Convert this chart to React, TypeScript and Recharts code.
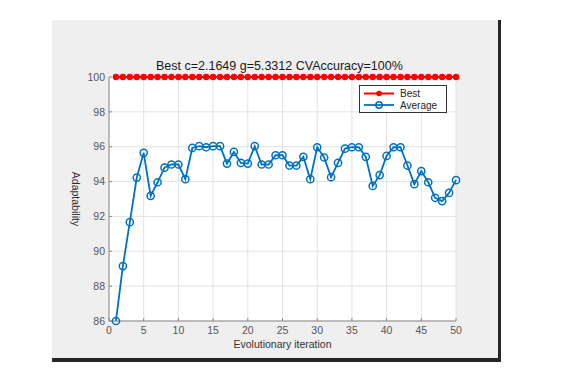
import React from "react";
import {
  LineChart,
  Line,
  XAxis,
  YAxis,
  CartesianGrid,
} from "recharts";

const iterations = Array.from({ length: 50 }, (_, i) => i + 1);
const bestValues = [
  100, 100, 100, 100, 100, 100, 100, 100, 100, 100,
  100, 100, 100, 100, 100, 100, 100, 100, 100, 100,
  100, 100, 100, 100, 100, 100, 100, 100, 100, 100,
  100, 100, 100, 100, 100, 100, 100, 100, 100, 100,
  100, 100, 100, 100, 100, 100, 100, 100, 100, 100,
];
const averageValues = [
  86.0, 89.15, 91.67, 94.23, 95.65, 93.18, 93.96, 94.8, 94.98, 94.98,
  94.14, 95.93, 96.03, 95.97, 96.03, 96.03, 95.03, 95.7, 95.07, 95.03,
  96.03, 94.98, 94.98, 95.51, 95.51, 94.92, 94.92, 95.42, 94.14, 95.97,
  95.38, 94.25, 95.07, 95.89, 95.97, 95.97, 95.42, 93.75, 94.37, 95.47,
  95.97, 95.97, 94.92, 93.85, 94.6, 93.96, 93.07, 92.88, 93.35, 94.08,
];
const xTicks = [0, 5, 10, 15, 20, 25, 30, 35, 40, 45, 50];
const yTicks = [86, 88, 90, 92, 94, 96, 98, 100];
const titleText = "Best c=2.1649 g=5.3312 CVAccuracy=100%";
const seriesNames = ["Best", "Average"];

const data = iterations.map((it, i) => ({
  it,
  best: bestValues[i],
  average: averageValues[i],
}));

const FONT = "'Liberation Sans', Arial, Helvetica, sans-serif";
const BLUE = "#0072BD";
const RED = "#FF0000";

const LegendBox = () => (
  <div
    style={{
      position: "absolute",
      left: 359,
      top: 85,
      width: 88,
      height: 28,
      border: "1px solid #333",
      background: "#fff",
      boxSizing: "border-box",
    }}
  >
    <svg width={86} height={26} style={{ display: "block" }}>
      <line x1={4} y1={7.5} x2={34} y2={7.5} stroke={RED} strokeWidth={2} />
      <circle cx={19} cy={7.5} r={2.8} fill={RED} />
      <text x={40} y={11} fontFamily={FONT} fontSize={10} fill="#262626">
        {seriesNames[0]}
      </text>
      <line x1={4} y1={19} x2={34} y2={19} stroke={BLUE} strokeWidth={1.8} />
      <circle cx={19} cy={19} r={3.2} fill="none" stroke={BLUE} strokeWidth={1.5} />
      <text x={40} y={22.5} fontFamily={FONT} fontSize={10} fill="#262626">
        {seriesNames[1]}
      </text>
    </svg>
  </div>
);

const AvgDot = (props: any) => {
  const { cx, cy, index } = props;
  return (
    <circle
      key={"a" + index}
      cx={cx}
      cy={cy}
      r={3.6}
      fill="none"
      stroke={BLUE}
      strokeWidth={1.5}
    />
  );
};

const BestDot = (props: any) => {
  const { cx, cy, index } = props;
  return <circle key={"b" + index} cx={cx} cy={cy} r={3.2} fill={RED} stroke="none" />;
};

export default function App() {
  return (
    <div
      style={{
        position: "absolute",
        left: 0,
        top: 0,
        width: 576,
        height: 379,
        background: "#fff",
        overflow: "hidden",
      }}
    >
      <div
        style={{
          position: "absolute",
          left: 52,
          top: 20,
          width: 446,
          height: 338,
          background: "#efefef",
        }}
      />
      <div
        style={{
          position: "absolute",
          left: 498,
          top: 20,
          width: 3,
          height: 342,
          background: "#262626",
        }}
      />
      <div
        style={{
          position: "absolute",
          left: 52,
          top: 358,
          width: 449,
          height: 4,
          background: "#262626",
        }}
      />
      <div
        style={{
          position: "absolute",
          left: 109,
          top: 77,
          width: 347,
          height: 244,
          background: "#fff",
        }}
      />
      <div
        style={{
          position: "absolute",
          left: 156,
          top: 59,
          fontFamily: FONT,
          fontSize: 12.5,
          color: "#1a1a1a",
          whiteSpace: "nowrap",
        }}
      >
        {titleText}
      </div>
      <div style={{ position: "absolute", left: 0, top: 0 }}>
        <LineChart
          width={576}
          height={379}
          data={data}
          margin={{ top: 77, right: 120, bottom: 28, left: 69 }}
        >
          <CartesianGrid stroke="#e3e3e3" strokeWidth={1} />
          <XAxis
            dataKey="it"
            type="number"
            domain={[0, 50]}
            ticks={xTicks}
            interval={0}
            height={30}
            stroke="#8a8a8a"
            tickSize={-3}
            tickMargin={9}
            tick={{ fontSize: 10.5, fill: "#555", fontFamily: FONT }}
            label={{
              value: "Evolutionary iteration",
              position: "insideBottom",
              offset: 3,
              style: { fontSize: 10.5, fill: "#333", fontFamily: FONT },
            }}
          />
          <XAxis
            xAxisId="top"
            dataKey="it"
            type="number"
            domain={[0, 50]}
            orientation="top"
            height={0}
            tick={false}
            tickLine={false}
            stroke="#8a8a8a"
          />
          <YAxis
            type="number"
            domain={[86, 100]}
            ticks={yTicks}
            interval={0}
            width={40}
            stroke="#8a8a8a"
            tickSize={-3}
            tickMargin={7}
            tick={{ fontSize: 10.5, fill: "#555", fontFamily: FONT }}
            label={{
              value: "Adaptability",
              angle: 90,
              position: "insideLeft",
              offset: 7,
              style: { fontSize: 10.5, fill: "#333", fontFamily: FONT, textAnchor: "middle" },
            }}
          />
          <YAxis
            yAxisId="right"
            type="number"
            domain={[86, 100]}
            orientation="right"
            width={0}
            tick={false}
            tickLine={false}
            stroke="#8a8a8a"
          />
          <Line
            dataKey="best"
            name={seriesNames[0]}
            stroke={RED}
            strokeWidth={2}
            dot={BestDot}
            isAnimationActive={false}
          />
          <Line
            dataKey="average"
            name={seriesNames[1]}
            stroke={BLUE}
            strokeWidth={1.8}
            dot={AvgDot}
            isAnimationActive={false}
          />
        </LineChart>
      </div>
      <LegendBox />
    </div>
  );
}
